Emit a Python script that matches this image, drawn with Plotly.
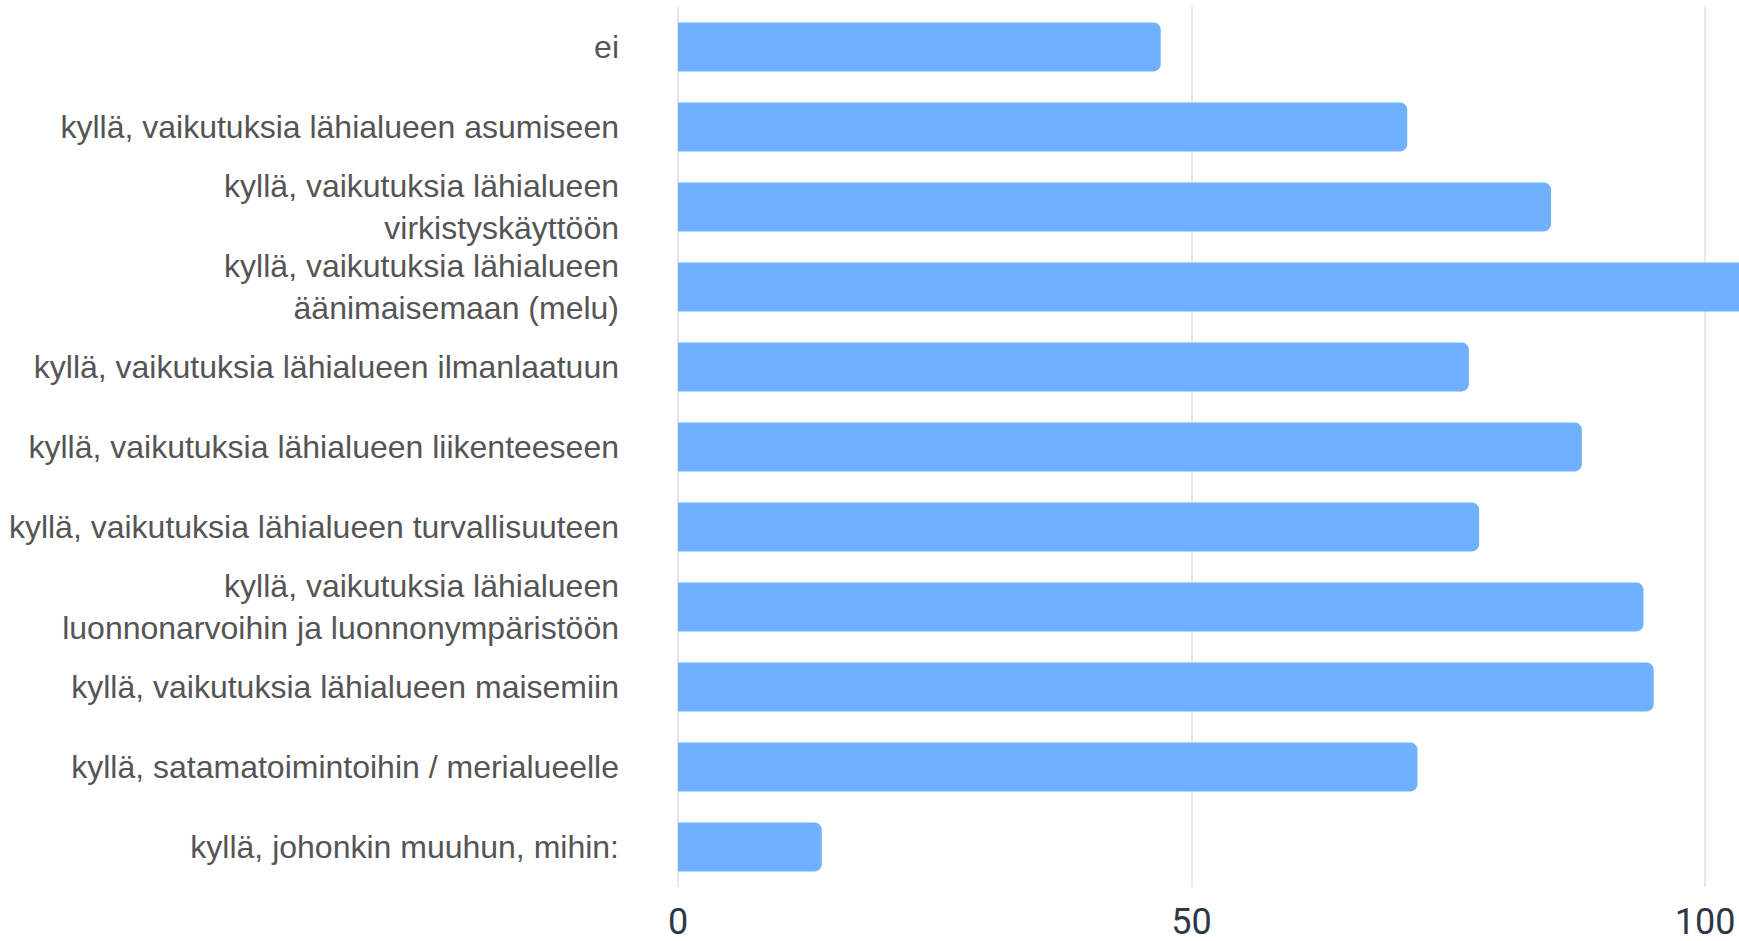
import plotly.graph_objects as go

categories = [
    "ei",
    "kyllä, vaikutuksia lähialueen asumiseen",
    "kyllä, vaikutuksia lähialueen<br>virkistyskäyttöön",
    "kyllä, vaikutuksia lähialueen<br>äänimaisemaan (melu)",
    "kyllä, vaikutuksia lähialueen ilmanlaatuun",
    "kyllä, vaikutuksia lähialueen liikenteeseen",
    "kyllä, vaikutuksia lähialueen turvallisuuteen",
    "kyllä, vaikutuksia lähialueen<br>luonnonarvoihin ja luonnonympäristöön",
    "kyllä, vaikutuksia lähialueen maisemiin",
    "kyllä, satamatoimintoihin / merialueelle",
    "kyllä, johonkin muuhun, mihin:",
]
values = [47, 71, 85, 108, 77, 88, 78, 94, 95, 72, 14]
x_ticks = [0, 50, 100]

fig = go.Figure(
    go.Bar(
        x=values,
        y=categories,
        orientation="h",
        width=0.61,
        marker=dict(color="#6fb1ff", line=dict(width=0)),
        hoverinfo="x+y",
    )
)

fig.update_layout(
    width=1739,
    height=941,
    margin=dict(l=678, r=0, t=7, b=54, autoexpand=False),
    paper_bgcolor="white",
    plot_bgcolor="white",
    showlegend=False,
    barcornerradius=7,
)

fig.update_xaxes(
    automargin=False,
    range=[0, 103.3],
    tickvals=x_ticks,
    ticktext=[str(v) for v in x_ticks],
    showgrid=True,
    gridcolor="#e3e8ec",
    gridwidth=1.5,
    zeroline=True,
    zerolinecolor="#e3e8ec",
    zerolinewidth=1.5,
    showline=False,
    ticks="",
    ticklabelstandoff=10,
    tickfont=dict(family="Roboto", size=36, color="#2d3748"),
)

fig.update_yaxes(
    automargin=False,
    autorange="reversed",
    showgrid=False,
    zeroline=False,
    showline=False,
    ticks="",
    ticklabelstandoff=58,
    tickfont=dict(family="Liberation Sans", size=32, color="#555555"),
)

fig.write_html(
    "out.html",
    config={"displayModeBar": False},
    post_script="document.body.style.margin='0';document.body.style.overflow='hidden';",
)
